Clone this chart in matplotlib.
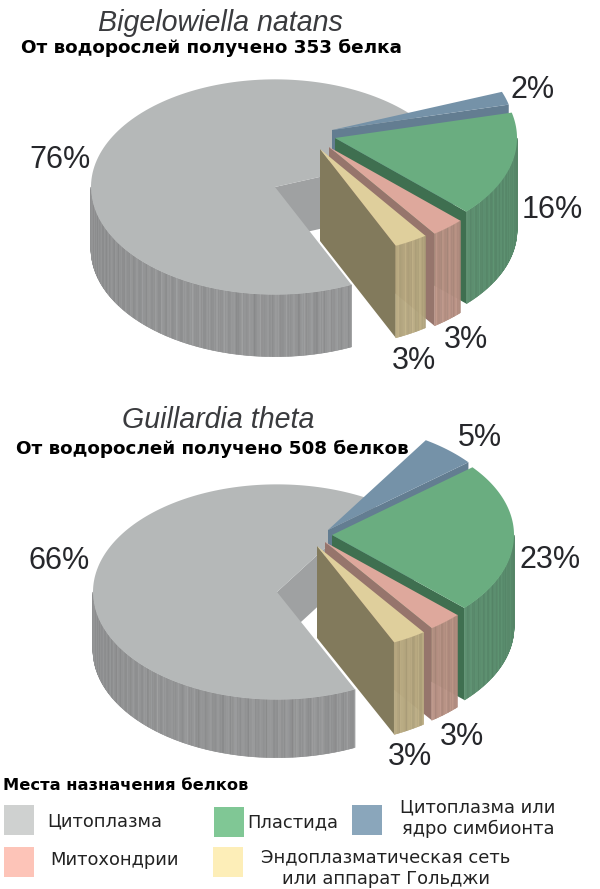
import numpy as np
import matplotlib
matplotlib.use("Agg")
import matplotlib.pyplot as plt
from matplotlib.patches import Polygon, Rectangle
from matplotlib.collections import PolyCollection
from matplotlib.colors import to_rgb

# ---- data ----
categories = ["Цитоплазма", "Цитоплазма или\nядро симбионта", "Пластида", "Митохондрии",
              "Эндоплазматическая сеть\nили аппарат Гольджи"]
bn_values = [76, 2, 16, 3, 3]
gt_values = [66, 5, 23, 3, 3]
titles = ["Bigelowiella natans", "Guillardia theta"]
subtitles = ["От водорослей получено 353 белка", "От водорослей получено 508 белков"]
legend_title = "Места назначения белков"

# ---- styles ----
TOP = ["#b5b8b8", "#7592a8", "#6aad80", "#dea89c", "#dfcf9c"]
SIDE = ["#919293", "#637d91", "#5a8c6d", "#b58f82", "#b5a77f"]
FACE = ["#9fa1a2", "#637d91", "#3f6f50", "#96756c", "#827a5c"]
LEG = ["#cfd1d0", "#8aa6bb", "#80c795", "#fdc4b8", "#fdeeb8"]
TXT = "#26272b"
RATIO = 0.585
R_GRAY, R_SLICE = 184, 182
H_SLICE = 92


def top_xy(c, r, a):
    a = np.radians(a)
    return np.column_stack([c[0] + r * np.cos(a), c[1] - r * RATIO * np.sin(a)])


def wedge(c, r, a1, a2, n=160):
    return np.vstack([[c], top_xy(c, r, np.linspace(a1, a2, n))])


def streak(a):
    # subtle brushed texture of the printed side walls
    return 1 + 0.035 * np.sin(a * 2.3) + 0.03 * np.sin(a * 7.7 + 1) + 0.025 * np.sin(a * 13.3 + 2)


def side_wall(ax, c, r, a1, a2, h, color, z):
    lo, hi = min(a1, a2), max(a1, a2)
    aa = np.linspace(lo, hi, max(int((hi - lo) * 3), 2))
    pts = top_xy(c, r, aa)
    base = np.array(to_rgb(color))
    polys, cols = [], []
    for i in range(len(aa) - 1):
        p, q = pts[i], pts[i + 1]
        polys.append([p, q, q + [0, h], p + [0, h]])
        cols.append(np.clip(base * streak(aa[i]), 0, 1))
    ax.add_collection(PolyCollection(polys, facecolors=cols, edgecolors=cols, linewidths=0.4, zorder=z))


def cut_face(ax, c, r, a, h, color, z):
    o = top_xy(c, r, a)[0]
    ax.add_patch(Polygon([c, o, o + [0, h], np.array(c) + [0, h]], closed=True, fc=color, ec="none", zorder=z))


def pie(ax, center, offsets, values, start, h_gray, h_notch):
    # values order: gray, blue, green, pink, yellow; slices run clockwise from start
    spans = np.array(values) * 3.6
    edges = start - np.concatenate([[0], np.cumsum(spans[1:])])
    gray_end = edges[-1]
    # gray block
    cut_face(ax, center, R_GRAY, start, h_notch, FACE[0], 1)
    side_wall(ax, center, R_GRAY, -180, gray_end, h_gray, SIDE[0], 2)
    ax.add_patch(Polygon(wedge(center, R_GRAY, start, 360 + gray_end),
                         closed=True, fc=TOP[0], ec="none", zorder=3))
    # exploded slices
    z = 4
    for i in range(1, 5):
        a1, a2 = edges[i - 1], edges[i]
        c = (center[0] + offsets[i - 1][0], center[1] + offsets[i - 1][1])
        cut_face(ax, c, R_SLICE, a2, H_SLICE, FACE[i], z)
        if a2 < 0:
            side_wall(ax, c, R_SLICE, min(a1, 0), a2, H_SLICE, SIDE[i], z + 0.1)
        ax.add_patch(Polygon(wedge(c, R_SLICE, a1, a2), closed=True, fc=TOP[i], ec="none", zorder=z + 0.2))
        z += 1


fig = plt.figure(figsize=(6.0, 8.89), dpi=100)
ax = fig.add_axes([0, 0, 1, 1])
ax.set_xlim(0, 600)
ax.set_ylim(889, 0)
ax.axis("off")

pie(ax, (275, 187), [(57, -57), (60, -49), (54, -40), (45, -38)], bn_values, 21, 62, 52)
pie(ax, (277, 592), [(51, -62), (55, -57), (48, -50), (40, -46)], gt_values, 57.5, 58, 52)

sans = "Liberation Sans"
vb = "DejaVu Sans"
ax.text(220, 23, titles[0], family=sans, style="italic", fontsize=20.6, color="#3a3b3e", ha="center", va="center", zorder=20)
ax.text(218, 420, titles[1], family=sans, style="italic", fontsize=20.6, color="#3a3b3e", ha="center", va="center", zorder=20)
ax.text(211.5, 48, subtitles[0], family=vb, weight="bold", fontsize=13.2, color="black", ha="center", va="center", zorder=20)
ax.text(212, 449, subtitles[1], family=vb, weight="bold", fontsize=13.2, color="black", ha="center", va="center", zorder=20)

bn_pos = [(60, 160), (533, 90), (552, 210), (466, 340), (414, 361)]
gt_pos = [(59, 561), (480, 438), (550, 560), (462, 737), (410, 757)]
for vals, pos in ((bn_values, bn_pos), (gt_values, gt_pos)):
    for v, (x, y) in zip(vals, pos):
        ax.text(x, y, f"{v}%", family=sans, fontsize=22, color=TXT, ha="center", va="center", zorder=20)

# legend
ax.text(3, 786, legend_title, family=vb, weight="bold", fontsize=11.7, color="black", ha="left", va="center", zorder=20)
squares = [(4, 805), (352, 805), (214, 807), (4, 847), (213, 847)]
text_pos = [(105, 821), (478, 818), (293, 822), (114, 860), (386, 868)]
for col, (x, y), lab, (tx, ty) in zip(LEG, squares, categories, text_pos):
    ax.add_patch(Rectangle((x, y), 30, 29.5, fc=col, ec="none", zorder=10))
    ax.text(tx, ty, lab, family=vb, fontsize=12.9, color="#222222", ha="center", va="center",
            linespacing=1.25, zorder=20)

fig.savefig("out.png", dpi=100)
